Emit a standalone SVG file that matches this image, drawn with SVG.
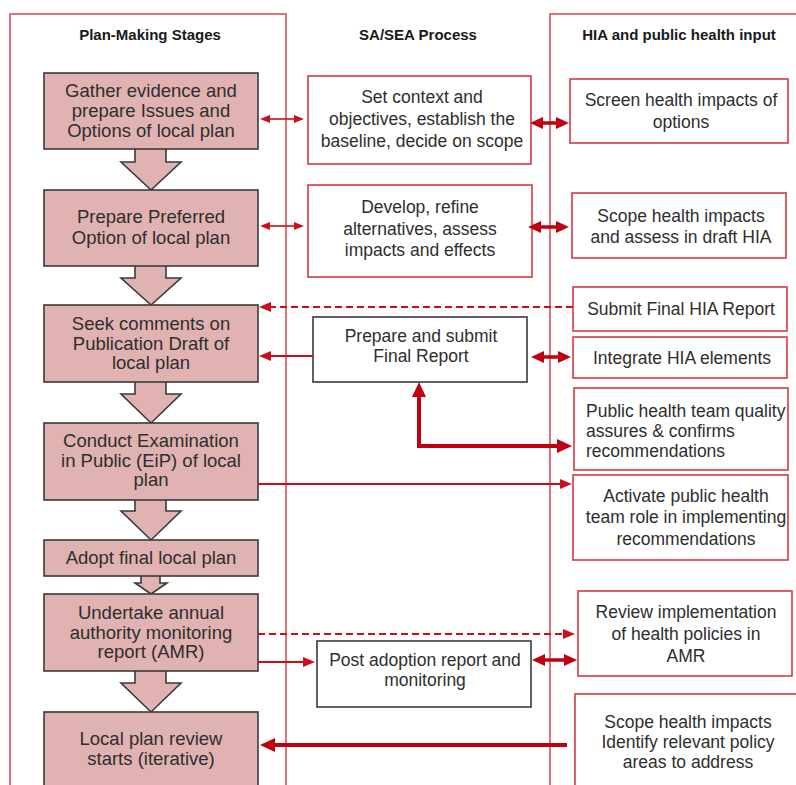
<svg xmlns="http://www.w3.org/2000/svg" width="796" height="785" viewBox="0 0 796 785">
<style>
text{font-family:"Liberation Sans",Arial,sans-serif;fill:#2e2e2e;}
.hdr{font-weight:bold;font-size:15px;text-anchor:middle;fill:#1a1a1a;}
.lt{font-size:18.5px;text-anchor:middle;}
.bt{font-size:17.5px;text-anchor:middle;}
.bl{font-size:17.5px;}
.panel{fill:none;stroke:#d6505a;stroke-width:1.6;}
.stage{fill:#e1b2b2;stroke:#3a3a3a;stroke-width:1.6;}
.rbox{fill:#fff;stroke:#d43a44;stroke-width:1.6;}
.kbox{fill:#fff;stroke:#3a3a3a;stroke-width:1.6;}
.c1{fill:none;stroke:#c8101c;stroke-width:1.6;}
.c2{fill:none;stroke:#c8101c;stroke-width:2;}
.c3{fill:none;stroke:#c00010;stroke-width:3.5;}
.c4{fill:none;stroke:#c00010;stroke-width:4;}
.dash{stroke-dasharray:7 4;}
</style>
<defs>
<marker id="ah1" viewBox="0 0 10 8" markerWidth="10" markerHeight="8" refX="3" refY="4" markerUnits="userSpaceOnUse" orient="auto-start-reverse"><path d="M0,0 L10,4 L0,8 z" fill="#c8101c"/></marker>
<marker id="ah2" viewBox="0 0 12 10" markerWidth="12" markerHeight="10" refX="3" refY="5" markerUnits="userSpaceOnUse" orient="auto-start-reverse"><path d="M0,0 L12,5 L0,10 z" fill="#c8101c"/></marker>
<marker id="ah3" viewBox="0 0 13 12" markerWidth="13" markerHeight="12" refX="4" refY="6" markerUnits="userSpaceOnUse" orient="auto-start-reverse"><path d="M0,0 L13,6 L0,12 z" fill="#c00010"/></marker>
<marker id="ah4" viewBox="0 0 15 14" markerWidth="15" markerHeight="14" refX="4" refY="7" markerUnits="userSpaceOnUse" orient="auto-start-reverse"><path d="M0,0 L15,7 L0,14 z" fill="#c00010"/></marker>
</defs>

<g id="panels">
<rect class="panel" x="10" y="14" width="276" height="800"/>
<rect class="panel" x="550" y="14" width="260" height="800"/>
<text class="hdr" x="150" y="40">Plan-Making Stages</text>
<text class="hdr" x="418" y="40">SA/SEA Process</text>
<text class="hdr" x="679" y="40">HIA and public health input</text>
</g>

<g id="flow-arrows">
<polygon class="stage" points="135,148 166,148 166,162 181,162 151,190 121,162 135,162"/>
<polygon class="stage" points="135,265 166,265 166,278 181,278 151,305 121,278 135,278"/>
<polygon class="stage" points="135,381 166,381 166,394 181,394 151,423 121,394 135,394"/>
<polygon class="stage" points="135,499 166,499 166,511 181,511 151,540 121,511 135,511"/>
<polygon class="stage" points="141,575 160,575 160,583 167,583 151,594 135,583 141,583"/>
<polygon class="stage" points="135,670 166,670 166,683 181,683 151,712 121,683 135,683"/>
</g>

<g id="stage1"><rect class="stage" x="44" y="73" width="214" height="76"/>
<text class="lt" x="151" y="97">Gather evidence and</text>
<text class="lt" x="151" y="117">prepare Issues and</text>
<text class="lt" x="151" y="137">Options of local plan</text></g>
<g id="stage2"><rect class="stage" x="44" y="190" width="214" height="76"/>
<text class="lt" x="151" y="223">Prepare Preferred</text>
<text class="lt" x="151" y="244">Option of local plan</text></g>
<g id="stage3"><rect class="stage" x="44" y="305" width="214" height="77"/>
<text class="lt" x="151" y="330">Seek comments on</text>
<text class="lt" x="151" y="350">Publication Draft of</text>
<text class="lt" x="151" y="369">local plan</text></g>
<g id="stage4"><rect class="stage" x="44" y="423" width="214" height="77"/>
<text class="lt" x="151" y="447">Conduct Examination</text>
<text class="lt" x="151" y="467">in Public (EiP) of local</text>
<text class="lt" x="151" y="486">plan</text></g>
<g id="stage5"><rect class="stage" x="44" y="540" width="214" height="36"/>
<text class="lt" x="151" y="564">Adopt final local plan</text></g>
<g id="stage6"><rect class="stage" x="44" y="594" width="214" height="77"/>
<text class="lt" x="151" y="619">Undertake annual</text>
<text class="lt" x="151" y="639">authority monitoring</text>
<text class="lt" x="151" y="658">report (AMR)</text></g>
<g id="stage7"><rect class="stage" x="44" y="712" width="214" height="100"/>
<text class="lt" x="151" y="745">Local plan review</text>
<text class="lt" x="151" y="765">starts (iterative)</text></g>

<g id="sa1"><rect class="rbox" x="308" y="76" width="223" height="88"/>
<text class="bt" x="422" y="103">Set context and</text>
<text class="bt" x="422" y="125">objectives, establish the</text>
<text class="bt" x="422" y="147">baseline, decide on scope</text></g>
<g id="sa2"><rect class="rbox" x="308" y="185" width="224" height="92"/>
<text class="bt" x="420" y="213">Develop, refine</text>
<text class="bt" x="420" y="235">alternatives, assess</text>
<text class="bt" x="420" y="256">impacts and effects</text></g>
<g id="sa3"><rect class="kbox" x="313" y="317" width="214" height="65"/>
<text class="bt" x="421" y="342">Prepare and submit</text>
<text class="bt" x="421" y="362">Final Report</text></g>
<g id="sa4"><rect class="kbox" x="317" y="641" width="214" height="66"/>
<text class="bt" x="425" y="666">Post adoption report and</text>
<text class="bt" x="425" y="686">monitoring</text></g>

<g id="hia1"><rect class="rbox" x="570" y="79" width="218" height="64"/>
<text class="bt" x="681" y="106">Screen health impacts of</text>
<text class="bt" x="681" y="128">options</text></g>
<g id="hia2"><rect class="rbox" x="572" y="193" width="214" height="65"/>
<text class="bt" x="681" y="222">Scope health impacts</text>
<text class="bt" x="681" y="243">and assess in draft HIA</text></g>
<g id="hia3"><rect class="rbox" x="573" y="287" width="214" height="44"/>
<text class="bt" x="681" y="315">Submit Final HIA Report</text></g>
<g id="hia4"><rect class="rbox" x="573" y="337" width="214" height="41"/>
<text class="bt" x="682" y="364">Integrate HIA elements</text></g>
<g id="hia5"><rect class="rbox" x="574" y="388" width="214" height="82"/>
<text class="bl" x="586" y="417">Public health team quality</text>
<text class="bl" x="586" y="437">assures &amp; confirms</text>
<text class="bl" x="586" y="457">recommendations</text></g>
<g id="hia6"><rect class="rbox" x="573" y="475" width="215" height="85"/>
<text class="bt" x="686" y="502">Activate public health</text>
<text class="bt" x="686" y="523">team role in implementing</text>
<text class="bt" x="686" y="545">recommendations</text></g>
<g id="hia7"><rect class="rbox" x="578" y="591" width="214" height="85"/>
<text class="bt" x="686" y="618">Review implementation</text>
<text class="bt" x="686" y="640">of health policies in</text>
<text class="bt" x="686" y="662">AMR</text></g>
<g id="hia8"><rect class="rbox" x="575" y="694" width="240" height="120"/>
<text class="bt" x="688" y="728">Scope health impacts</text>
<text class="bt" x="688" y="748">Identify relevant policy</text>
<text class="bt" x="688" y="768">areas to address</text></g>

<g id="connectors">
<line class="c1" x1="267" y1="119" x2="297" y2="119" marker-start="url(#ah1)" marker-end="url(#ah1)"/>
<line class="c3" x1="539" y1="123" x2="560" y2="123" marker-start="url(#ah3)" marker-end="url(#ah3)"/>
<line class="c1" x1="267" y1="226" x2="297" y2="226" marker-start="url(#ah1)" marker-end="url(#ah1)"/>
<line class="c3" x1="537" y1="227" x2="560" y2="227" marker-start="url(#ah3)" marker-end="url(#ah3)"/>
<line class="c2 dash" x1="573" y1="307" x2="268" y2="307" marker-end="url(#ah2)"/>
<line class="c2" x1="313" y1="356" x2="268" y2="356" marker-end="url(#ah2)"/>
<line class="c3" x1="540" y1="357" x2="562" y2="357" marker-start="url(#ah3)" marker-end="url(#ah3)"/>
<polyline class="c4" points="419,393 419,446 561,446" marker-start="url(#ah4)" marker-end="url(#ah4)"/>
<line class="c2" x1="258" y1="484" x2="563" y2="484" marker-end="url(#ah2)"/>
<line class="c2 dash" x1="258" y1="634" x2="566" y2="634" marker-end="url(#ah2)"/>
<line class="c2" x1="258" y1="662" x2="306" y2="662" marker-end="url(#ah2)"/>
<line class="c3" x1="541" y1="660" x2="568" y2="660" marker-start="url(#ah3)" marker-end="url(#ah3)"/>
<line class="c4" x1="567" y1="745" x2="271" y2="745" marker-end="url(#ah4)"/>
</g>
</svg>
